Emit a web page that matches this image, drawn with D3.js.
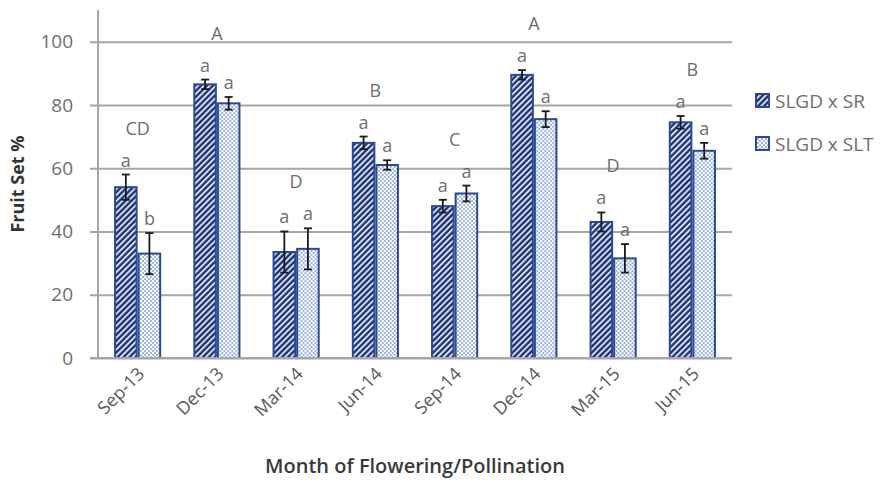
<!DOCTYPE html>
<html>
<head>
<meta charset="utf-8">
<script src="https://cdn.jsdelivr.net/npm/d3@7/dist/d3.min.js"></script>
<style>
  html, body { margin: 0; padding: 0; background: #fff; }
  svg { display: block; }
  text { font-family: "Open Sans", "Liberation Sans", sans-serif; }
</style>
</head>
<body>
<svg id="chart" width="887" height="483"></svg>
<script>
// Fruit set (%) by month of flowering/pollination for two crosses
const months = ["Sep-13", "Dec-13", "Mar-14", "Jun-14", "Sep-14", "Dec-14", "Mar-15", "Jun-15"];
const seriesNames = ["SLGD x SR", "SLGD x SLT"];
const srValues  = [54, 86.5, 33.5, 68, 48, 89.5, 43, 74.5];
const srErrors  = [4, 1.5, 6.5, 2, 2, 1.5, 3, 2];
const sltValues = [33, 80.5, 34.5, 61, 52, 75.5, 31.5, 65.5];
const sltErrors = [6.5, 2, 6.5, 1.5, 2.5, 2.5, 4.5, 2.5];
const srLetters  = ["a", "a", "a", "a", "a", "a", "a", "a"];
const sltLetters = ["b", "a", "a", "a", "a", "a", "a", "a"];
const monthLetters = ["CD", "A", "D", "B", "C", "A", "D", "B"];
const yTicks = [0, 20, 40, 60, 80, 100];

const svg = d3.select("#chart");
const plotLeft = 98, plotRight = 732, plotTop = 10, plotBottom = 358;
const labelGray = "#6e6e6e";

const x = d3.scaleBand().domain(months).range([plotLeft, plotRight])
  .paddingInner(0.405).paddingOuter(0.2025);
const xs = d3.scaleBand().domain(seriesNames).range([0, x.bandwidth()]);
const y = d3.scaleLinear().domain([0, 110]).range([plotBottom, plotTop]);

// fill patterns
const defs = svg.append("defs");
const stripes = defs.append("pattern").attr("id", "stripes")
  .attr("patternUnits", "userSpaceOnUse").attr("width", 4.2).attr("height", 10)
  .attr("patternTransform", "rotate(45)");
stripes.append("rect").attr("width", 4.2).attr("height", 10).attr("fill", "#1e3270");
stripes.append("rect").attr("x", 0).attr("width", 1.9).attr("height", 10).attr("fill", "#d6e0f6");

const checker = defs.append("pattern").attr("id", "checker")
  .attr("patternUnits", "userSpaceOnUse").attr("width", 4).attr("height", 4);
checker.append("rect").attr("width", 4).attr("height", 4).attr("fill", "#ffffff");
checker.append("rect").attr("width", 2).attr("height", 2).attr("fill", "#9fb5e3");
checker.append("rect").attr("x", 2).attr("y", 2).attr("width", 2).attr("height", 2).attr("fill", "#9fb5e3");

const fills = ["url(#stripes)", "url(#checker)"];
const borderColor = "#2b4a92";

// gridlines and y axis ticks
const yAxis = d3.axisLeft(y).tickValues(yTicks).tickSize(0).tickPadding(25);
const gy = svg.append("g").attr("transform", `translate(${plotLeft},0)`).call(yAxis);
gy.select(".domain").remove();
gy.selectAll(".tick line").attr("x1", -8).attr("x2", plotRight - plotLeft)
  .attr("stroke", "#a6a6a6").attr("stroke-width", 2);
gy.selectAll(".tick text").attr("fill", labelGray).style("font-size", "19px");

// vertical axis line
svg.append("line").attr("x1", plotLeft).attr("x2", plotLeft)
  .attr("y1", y(110)).attr("y2", plotBottom)
  .attr("stroke", "#a6a6a6").attr("stroke-width", 2);

// bars
const data = months.map((m, i) => ({
  month: m,
  bars: [
    { s: seriesNames[0], v: srValues[i], e: srErrors[i], l: srLetters[i] },
    { s: seriesNames[1], v: sltValues[i], e: sltErrors[i], l: sltLetters[i] }
  ],
  letter: monthLetters[i]
}));

const groups = svg.append("g").selectAll("g").data(data).join("g")
  .attr("transform", d => `translate(${x(d.month)},0)`);

groups.selectAll("rect").data(d => d.bars).join("rect")
  .attr("x", d => xs(d.s) + 1)
  .attr("width", xs.bandwidth() - 2)
  .attr("y", d => y(d.v))
  .attr("height", d => plotBottom - y(d.v))
  .attr("fill", (d, i) => fills[i])
  .attr("stroke", borderColor).attr("stroke-width", 2);

// error bars
const eb = groups.selectAll("g.err").data(d => d.bars).join("g").attr("class", "err");
const cx = d => xs(d.s) + xs.bandwidth() / 2;
eb.append("line")
  .attr("x1", cx).attr("x2", cx)
  .attr("y1", d => y(d.v + d.e)).attr("y2", d => y(d.v - d.e));
eb.append("line")
  .attr("x1", d => cx(d) - 4).attr("x2", d => cx(d) + 4)
  .attr("y1", d => y(d.v + d.e)).attr("y2", d => y(d.v + d.e));
eb.append("line")
  .attr("x1", d => cx(d) - 4).attr("x2", d => cx(d) + 4)
  .attr("y1", d => y(d.v - d.e)).attr("y2", d => y(d.v - d.e));
eb.selectAll("line").attr("stroke", "#1a1a1a").attr("stroke-width", 1.8);

// per-series significance letters
groups.selectAll("text.sl").data(d => d.bars).join("text").attr("class", "sl")
  .attr("x", cx)
  .attr("y", d => y(d.v + d.e) - 8)
  .attr("text-anchor", "middle")
  .attr("fill", labelGray).style("font-size", "18px")
  .text(d => d.l);

// per-month significance letters
groups.append("text")
  .attr("x", x.bandwidth() / 2)
  .attr("y", d => y(d3.max(d.bars, b => b.v + b.e)) - 40)
  .attr("text-anchor", "middle")
  .attr("fill", labelGray).style("font-size", "18px")
  .text(d => d.letter);

// x axis baseline and rotated month labels
svg.append("line").attr("x1", plotLeft - 8).attr("x2", plotRight)
  .attr("y1", plotBottom).attr("y2", plotBottom)
  .attr("stroke", "#a6a6a6").attr("stroke-width", 2);

const xAxis = d3.axisBottom(x).tickSize(0);
const gx = svg.append("g").attr("transform", `translate(0,${plotBottom})`).call(xAxis);
gx.select(".domain").remove();
gx.selectAll(".tick text")
  .attr("fill", "#5a5a5a").style("font-size", "18px")
  .attr("text-anchor", "end")
  .attr("dy", null).attr("y", 0)
  .attr("transform", "translate(8,17) rotate(-45)");

// axis titles
svg.append("text")
  .attr("x", (plotLeft + plotRight) / 2).attr("y", 473)
  .attr("text-anchor", "middle")
  .attr("fill", "#3a3a3a").style("font-size", "20px").style("font-weight", "600")
  .text("Month of Flowering/Pollination");

svg.append("text")
  .attr("transform", `translate(24,${(plotTop + plotBottom) / 2}) rotate(-90)`)
  .attr("text-anchor", "middle")
  .attr("fill", "#333333").style("font-size", "18px").style("font-weight", "700")
  .text("Fruit Set %");

// legend
const legend = svg.append("g").selectAll("g").data(seriesNames).join("g")
  .attr("transform", (d, i) => `translate(755,${93 + i * 43})`);
legend.append("rect").attr("x", 1).attr("y", 1).attr("width", 13).attr("height", 13)
  .attr("fill", (d, i) => fills[i]).attr("stroke", borderColor).attr("stroke-width", 2);
legend.append("text").attr("x", 20).attr("y", 8).attr("dy", "0.35em")
  .attr("fill", labelGray).style("font-size", "19px")
  .text(d => d);
</script>
</body>
</html>
